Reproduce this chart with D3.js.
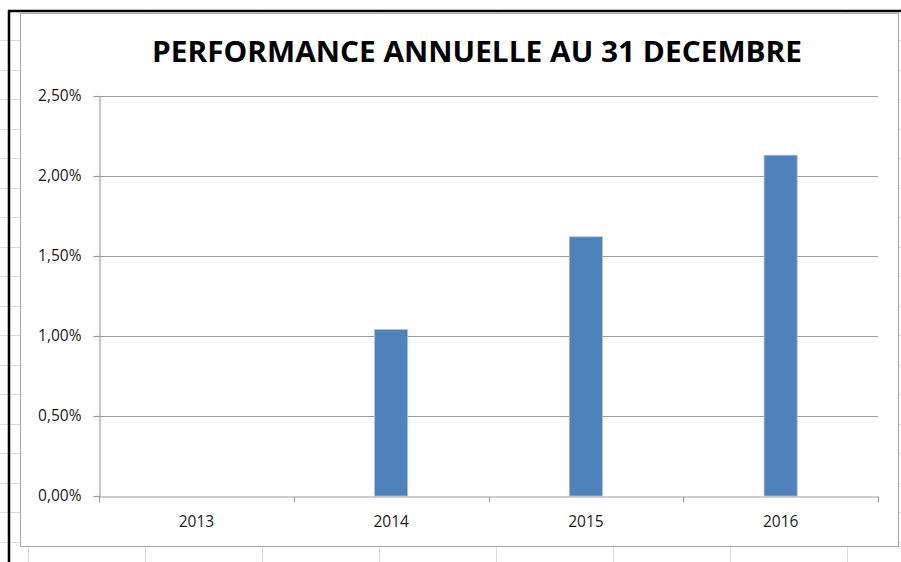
<!DOCTYPE html>
<html>
<head>
<meta charset="utf-8">
<script src="https://cdn.jsdelivr.net/npm/d3@7"></script>
<style>
  body { margin: 0; background: #fff; }
  svg { display: block; }
</style>
</head>
<body>
<div id="chart"></div>
<script>
// Data
const years = ['2013', '2014', '2015', '2016'];
const perf = [0, 1.04, 1.62, 2.13];
const yTicks = [0, 0.5, 1, 1.5, 2, 2.5];
const title = 'PERFORMANCE ANNUELLE AU 31 DECEMBRE';

const W = 901, H = 562;
const svg = d3.select('#chart').append('svg')
  .attr('width', W).attr('height', H);

// Faint spreadsheet cell lines behind the chart object
const sheet = svg.append('g').attr('stroke', '#dcdcdc').attr('stroke-width', 1);
d3.range(28, W, 117).forEach((x) => {
  sheet.append('line').attr('x1', x + 0.5).attr('x2', x + 0.5).attr('y1', 12).attr('y2', H);
});
d3.range(40, H, 29.5).forEach((y) => {
  sheet.append('line').attr('x1', 0).attr('x2', W).attr('y1', Math.round(y) + 0.5).attr('y2', Math.round(y) + 0.5);
});

// Chart object box
svg.append('rect')
  .attr('x', 20.5).attr('y', 13.5).attr('width', 878).attr('height', 533)
  .attr('fill', '#fff').attr('stroke', '#a6a6a6').attr('stroke-width', 1);

// black frame of the screenshot (left + top)
svg.append('line').attr('x1', 9).attr('x2', 9).attr('y1', 10).attr('y2', H)
  .attr('stroke', '#000').attr('stroke-width', 2.5);
svg.append('line').attr('x1', 8).attr('x2', W).attr('y1', 11).attr('y2', 11)
  .attr('stroke', '#000').attr('stroke-width', 2.5);

// Plot area
const plotLeft = 99, plotRight = 878, plotTop = 96, plotBottom = 496;

const x = d3.scaleBand().domain(years).range([plotLeft, plotRight]);
const y = d3.scaleLinear().domain([0, 2.5]).range([plotBottom, plotTop]);

const fmt = (v) => v.toFixed(2).replace('.', ',') + '%';
const labelFont = '"Open Sans", "DejaVu Sans", sans-serif';

// horizontal grid
svg.append('g')
  .selectAll('line')
  .data(yTicks.filter((d) => d > 0))
  .enter().append('line')
  .attr('x1', plotLeft).attr('x2', plotRight)
  .attr('y1', (d) => Math.round(y(d)) + 0.5)
  .attr('y2', (d) => Math.round(y(d)) + 0.5)
  .attr('stroke', '#a0a0a0').attr('stroke-width', 1.2);

// bars
const barW = x.bandwidth() * 0.17;
svg.append('g')
  .selectAll('rect')
  .data(years.map((d, i) => ({ year: d, v: perf[i] })))
  .enter().append('rect')
  .attr('x', (d) => x(d.year) + x.bandwidth() / 2 - barW / 2)
  .attr('y', (d) => y(d.v))
  .attr('width', barW)
  .attr('height', (d) => y(0) - y(d.v))
  .attr('fill', '#4f81bd')
  .attr('stroke', (d) => d.v > 0 ? '#a9c2e0' : 'none')
  .attr('stroke-width', 0.8);

// y axis
const yAxis = svg.append('g')
  .attr('transform', 'translate(' + (plotLeft + 0.5) + ',0)')
  .call(d3.axisLeft(y).tickValues(yTicks).tickSize(6).tickPadding(12).tickFormat(fmt));
yAxis.select('.domain').attr('stroke', '#a0a0a0').attr('stroke-width', 1.2);
yAxis.selectAll('.tick line').attr('stroke', '#a0a0a0').attr('stroke-width', 1.2);
yAxis.selectAll('.tick text')
  .attr('font-family', labelFont)
  .attr('font-size', 15.5).attr('fill', '#1a1a1a');

// x axis
const xAxis = svg.append('g')
  .attr('transform', 'translate(0,' + (plotBottom + 0.5) + ')')
  .call(d3.axisBottom(x).tickSize(0).tickPadding(19));
xAxis.select('.domain').attr('stroke', '#a0a0a0').attr('stroke-width', 1.2);
xAxis.selectAll('.tick text')
  .attr('font-family', labelFont)
  .attr('font-size', 15.5).attr('fill', '#1a1a1a');
// category separator ticks
xAxis.selectAll('.sep')
  .data(years.concat(['end']))
  .enter().append('line')
  .attr('class', 'sep')
  .attr('x1', (d) => Math.round(d === 'end' ? plotRight : x(d)) + 0.5)
  .attr('x2', (d) => Math.round(d === 'end' ? plotRight : x(d)) + 0.5)
  .attr('y1', 0).attr('y2', 6)
  .attr('stroke', '#a0a0a0').attr('stroke-width', 1.2);

// title
svg.append('text')
  .attr('x', 477).attr('y', 62)
  .attr('text-anchor', 'middle')
  .attr('font-family', '"Open Sans", "Liberation Sans", sans-serif')
  .attr('font-weight', 'bold')
  .attr('font-size', 28)
  .attr('textLength', 650)
  .attr('lengthAdjust', 'spacingAndGlyphs')
  .attr('fill', '#000')
  .text(title);
</script>
</body>
</html>
